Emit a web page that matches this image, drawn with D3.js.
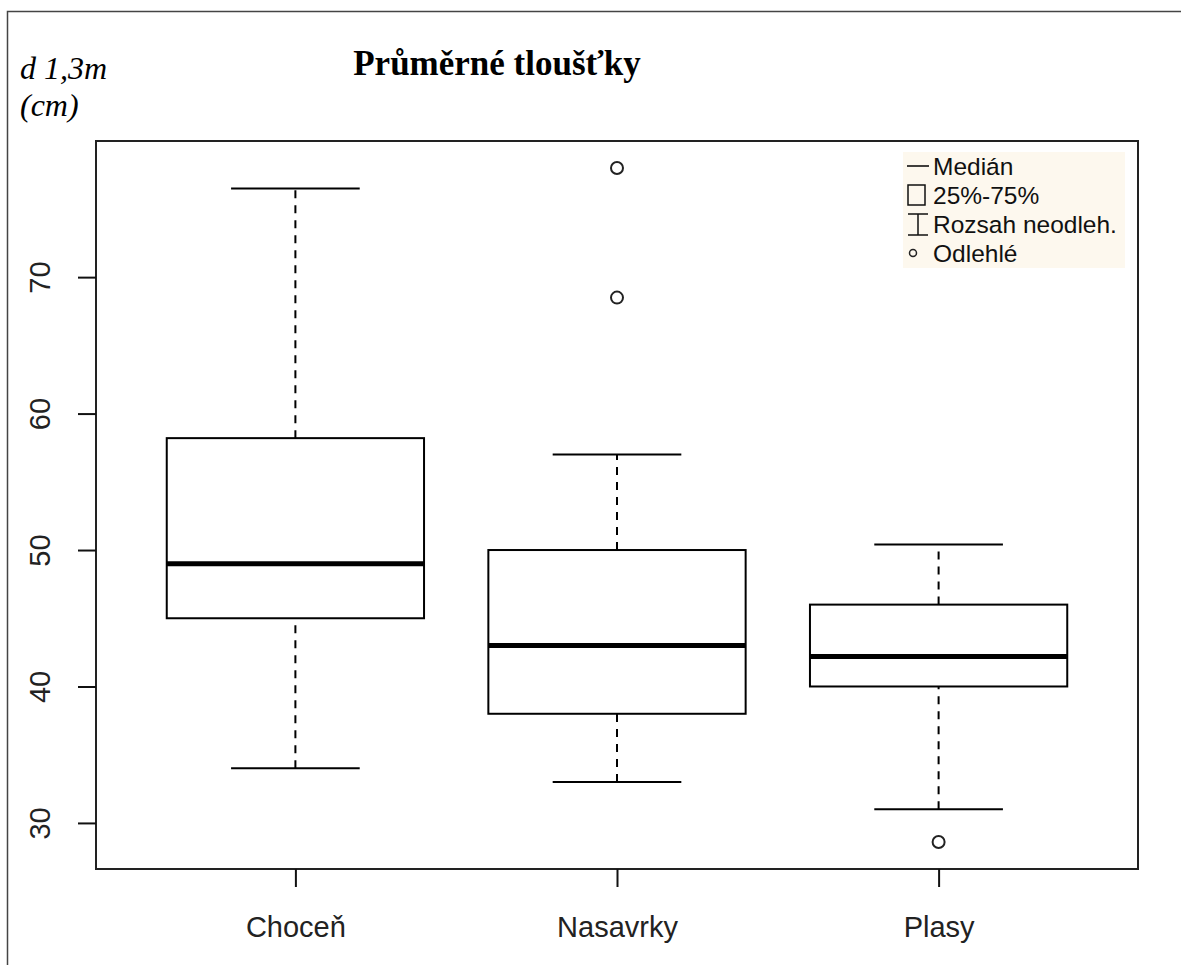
<!DOCTYPE html>
<html>
<head>
<meta charset="utf-8">
<script src="https://cdn.jsdelivr.net/npm/d3@7"></script>
<style>
  body { margin: 0; background: #fff; }
  svg { display: block; }
</style>
</head>
<body>
<svg id="chart" width="1181" height="965"></svg>
<script>
// values
const categories = ["Choceň", "Nasavrky", "Plasy"];
const whiskerLow = [34, 33, 31];
const q1 = [45, 38, 40];
const medians = [49, 43, 42.2];
const q3 = [58.2, 50, 46];
const whiskerHigh = [76.5, 57, 50.4];
const outliers = [[], [68.5, 78], [28.6]];
const yTicks = [30, 40, 50, 60, 70];
const legendLabels = ["Medián", "25%-75%", "Rozsah neodleh.", "Odlehlé"];

const svg = d3.select("#chart");
const plot = { left: 96, right: 1138, top: 141, bottom: 869 };

// outer frame (left + top only)
svg.append("path")
   .attr("d", `M7.5,970 V11.5 H1190`)
   .attr("fill", "none")
   .attr("stroke", "#444")
   .attr("stroke-width", 1.5);

// y domain like R: data range extended 4%
const allVals = whiskerLow.concat(whiskerHigh, outliers.flat());
const lo = d3.min(allVals), hi = d3.max(allVals);
const pad = (hi - lo) * 0.04;

const y = d3.scaleLinear()
            .domain([lo - pad, hi + pad])
            .range([plot.bottom, plot.top]);

const x = d3.scalePoint()
            .domain(categories)
            .range([plot.left, plot.right])
            .padding(0.62);

const boxW = x.step() * 0.8;

const rows = categories.map((c, i) => ({
  cat: c, lo: whiskerLow[i], q1: q1[i], med: medians[i], q3: q3[i], hi: whiskerHigh[i], out: outliers[i]
}));

const g = svg.append("g");

// whiskers (dashed)
g.selectAll(".whisk")
 .data(rows.flatMap(d => [[d.cat, d.lo, d.q1], [d.cat, d.q3, d.hi]]))
 .join("line")
 .attr("x1", d => x(d[0])).attr("x2", d => x(d[0]))
 .attr("y1", d => y(d[1])).attr("y2", d => y(d[2]))
 .attr("stroke", "#000").attr("stroke-width", 2)
 .attr("stroke-dasharray", "8,7");

// staples
g.selectAll(".staple")
 .data(rows.flatMap(d => [[d.cat, d.lo], [d.cat, d.hi]]))
 .join("line")
 .attr("x1", d => x(d[0]) - boxW / 4).attr("x2", d => x(d[0]) + boxW / 4)
 .attr("y1", d => y(d[1])).attr("y2", d => y(d[1]))
 .attr("stroke", "#000").attr("stroke-width", 2);

// boxes
g.selectAll(".box")
 .data(rows)
 .join("rect")
 .attr("x", d => x(d.cat) - boxW / 2)
 .attr("width", boxW)
 .attr("y", d => y(d.q3))
 .attr("height", d => y(d.q1) - y(d.q3))
 .attr("fill", "#fff")
 .attr("stroke", "#000").attr("stroke-width", 2);

// medians
g.selectAll(".med")
 .data(rows)
 .join("line")
 .attr("x1", d => x(d.cat) - boxW / 2).attr("x2", d => x(d.cat) + boxW / 2)
 .attr("y1", d => y(d.med)).attr("y2", d => y(d.med))
 .attr("stroke", "#000").attr("stroke-width", 5);

// outliers
g.selectAll(".out")
 .data(rows.flatMap(d => d.out.map(v => [d.cat, v])))
 .join("circle")
 .attr("cx", d => x(d[0])).attr("cy", d => y(d[1]))
 .attr("r", 6)
 .attr("fill", "none")
 .attr("stroke", "#222").attr("stroke-width", 2);

// plot frame
svg.append("rect")
   .attr("x", plot.left).attr("y", plot.top)
   .attr("width", plot.right - plot.left)
   .attr("height", plot.bottom - plot.top)
   .attr("fill", "none")
   .attr("stroke", "#222").attr("stroke-width", 2);

// axes
const yAxis = svg.append("g")
   .attr("transform", `translate(${plot.left},0)`)
   .call(d3.axisLeft(y).tickValues(yTicks).tickSize(18).tickSizeOuter(0));
yAxis.select(".domain").remove();
yAxis.selectAll("line").attr("stroke", "#111").attr("stroke-width", 2);
yAxis.selectAll("text")
     .attr("x", 0).attr("y", 0).attr("dy", "0.35em")
     .attr("transform", "translate(-56,0) rotate(-90)")
     .attr("text-anchor", "middle")
     .attr("fill", "#222")
     .style("font-family", "'Liberation Sans', Arial, sans-serif")
     .style("font-size", "29px");

const xAxis = svg.append("g")
   .attr("transform", `translate(0,${plot.bottom})`)
   .call(d3.axisBottom(x).tickSize(18).tickPadding(29).tickSizeOuter(0));
xAxis.select(".domain").remove();
xAxis.selectAll("line").attr("stroke", "#111").attr("stroke-width", 2);
xAxis.selectAll("text")
     .attr("fill", "#222")
     .style("font-family", "'Liberation Sans', Arial, sans-serif")
     .style("font-size", "29px");

// title
svg.append("text")
   .attr("x", 497).attr("y", 75)
   .attr("text-anchor", "middle")
   .style("font-family", "'Liberation Serif', 'Times New Roman', serif")
   .style("font-weight", "bold")
   .style("font-size", "35px")
   .text("Průměrné tloušťky");

// y label
const ylab = svg.append("text")
   .style("font-family", "'Liberation Serif', 'Times New Roman', serif")
   .style("font-style", "italic")
   .style("font-size", "32px");
ylab.append("tspan").attr("x", 20).attr("y", 79).text("d 1,3m");
ylab.append("tspan").attr("x", 20).attr("y", 116).text("(cm)");

// legend
const leg = svg.append("g").attr("transform", "translate(903,152)");
leg.append("rect")
   .attr("width", 222).attr("height", 116)
   .attr("fill", "#fdf8ee");
const rowY = [14, 43, 72, 101];
leg.selectAll(".lt")
   .data(legendLabels)
   .join("text")
   .attr("x", 30).attr("y", (d, i) => rowY[i]).attr("dy", "0.35em")
   .attr("fill", "#111")
   .style("font-family", "'Liberation Sans', Arial, sans-serif")
   .style("font-size", "24.5px")
   .text(d => d);
// symbols
leg.append("line").attr("x1", 4).attr("x2", 26).attr("y1", rowY[0]).attr("y2", rowY[0])
   .attr("stroke", "#000").attr("stroke-width", 1.5);
leg.append("rect").attr("x", 5).attr("y", rowY[1] - 10).attr("width", 17).attr("height", 20)
   .attr("fill", "none").attr("stroke", "#111").attr("stroke-width", 1.5);
leg.append("path")
   .attr("d", `M5,${rowY[2] - 10} H25 M15,${rowY[2] - 10} V${rowY[2] + 11} M5,${rowY[2] + 11} H25`)
   .attr("fill", "none").attr("stroke", "#111").attr("stroke-width", 1.5);
leg.append("circle").attr("cx", 10).attr("cy", rowY[3]).attr("r", 3.5)
   .attr("fill", "none").attr("stroke", "#222").attr("stroke-width", 1.5);
</script>
</body>
</html>
